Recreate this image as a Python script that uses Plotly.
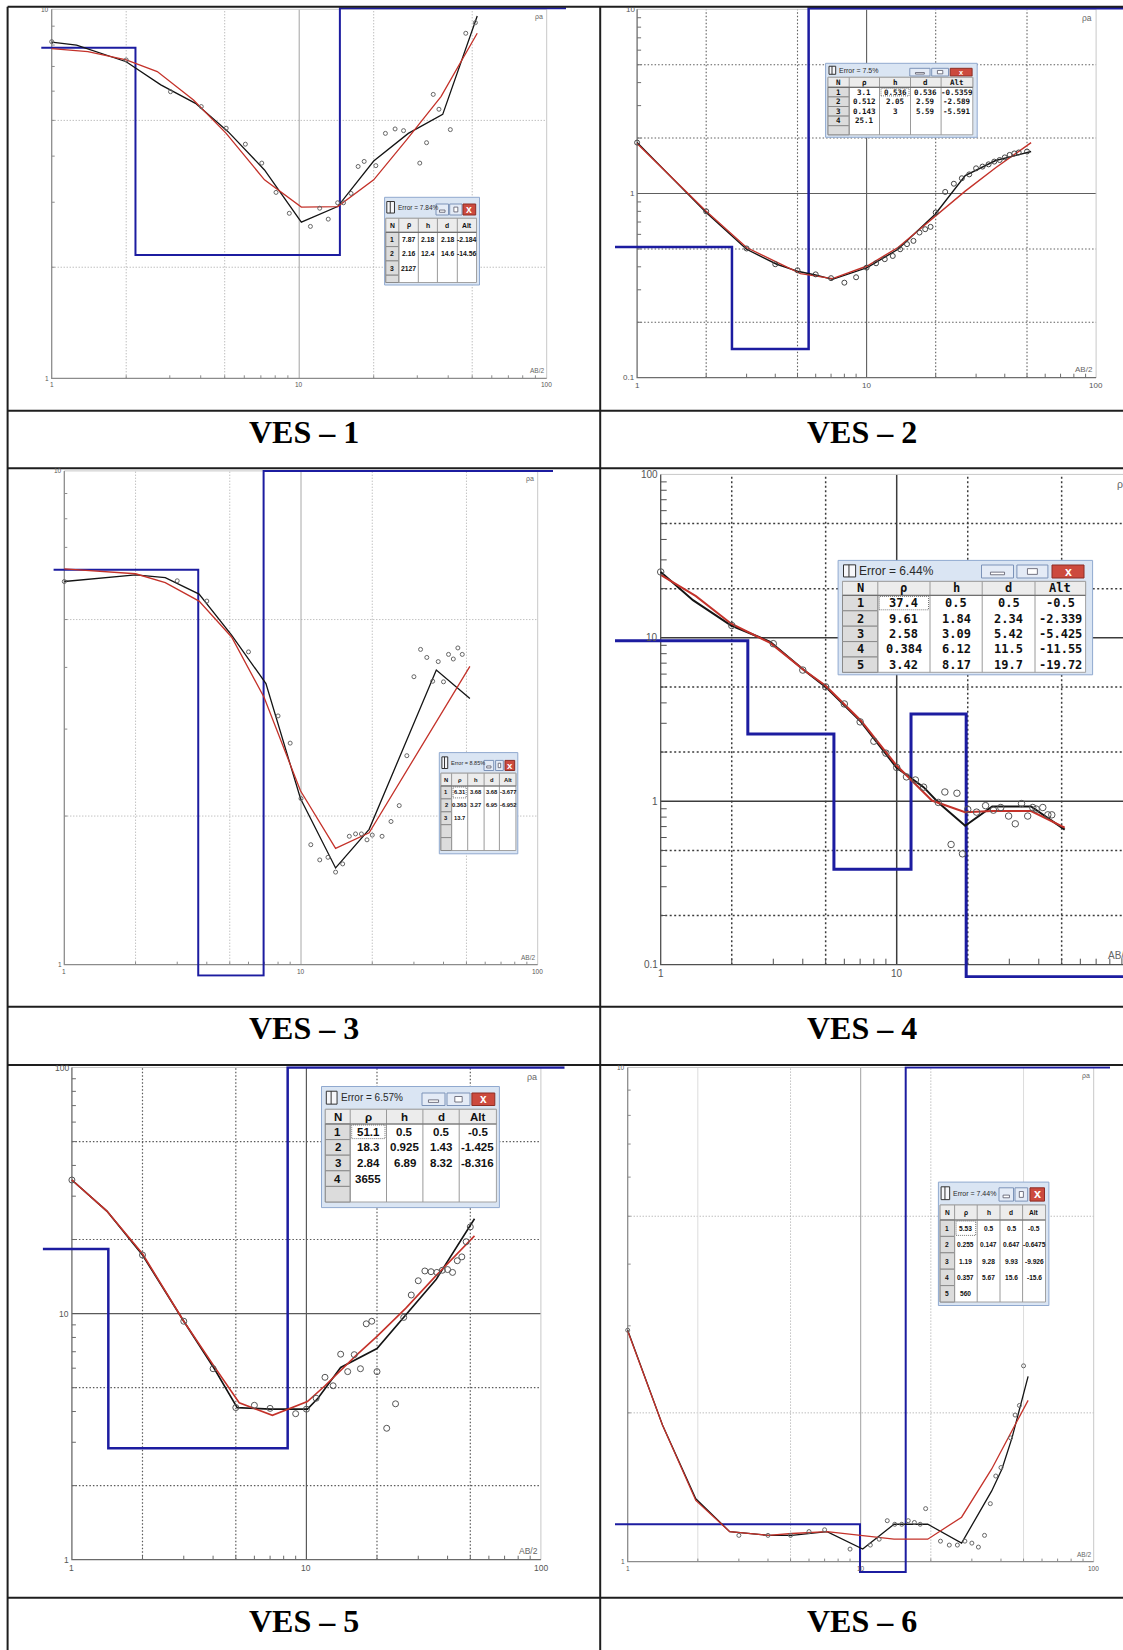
import math
import plotly.graph_objects as go

W, H = 1123, 1650

# ---------------------------------------------------------------
# Sounding data: AB/2 (m) versus apparent resistivity (ohm-m)
#   *_obs   : field readings (circles)
#   *_field : smoothed field curve (black)
#   *_calc  : computed curve of the layered model (red)
#   layer tables: resistivity, thickness, depth, altitude per layer
# ---------------------------------------------------------------

# VES-1
ves1_ab_obs = [1.0, 2.0, 3.02, 4.02, 5.07, 6.06, 7.06, 8.06, 9.12, 11.1, 12.1, 13.1, 14.3, 15.1,
               16.2, 17.3, 18.3, 20.4, 22.3, 24.4, 26.4, 30.7, 32.7, 34.8, 36.7, 40.8, 47.1, 51.5]
ves1_rho_obs = [8.17, 7.29, 5.98, 5.45, 4.76, 4.31, 3.83, 3.19, 2.80, 2.58, 2.89, 2.70, 2.99, 2.99,
                3.17, 3.75, 3.87, 3.77, 4.61, 4.74, 4.69, 3.83, 4.35, 5.88, 5.36, 4.72, 8.61, 9.20]
ves1_ab_field = [1.0, 1.26, 2.0, 2.76, 3.81, 5.16, 7.24, 10.2, 14.3, 20.0, 27.6, 38.0, 52.4]
ves1_rho_field = [8.15, 8.0, 7.21, 6.24, 5.56, 4.66, 3.67, 2.65, 2.92, 3.88, 4.61, 5.19, 9.59]
ves1_ab_calc = [1.0, 1.40, 2.0, 2.67, 3.74, 5.07, 7.24, 10.2, 14.3, 20.0, 27.1, 37.4, 52.4]
ves1_rho_calc = [7.82, 7.68, 7.29, 6.78, 5.68, 4.61, 3.45, 2.91, 2.92, 3.45, 4.42, 5.80, 8.61]
ves1_error = "7.84%"
ves1_rho = ["7.87", "2.16", "2127"]
ves1_h = ["2.18", "12.4"]
ves1_d = ["2.18", "14.6"]
ves1_alt = ["-2.184", "-14.56"]

# VES-2
ves2_ab_obs = [1, 2, 3, 4, 5, 6, 7, 8, 9, 10, 11, 12, 13, 14, 15, 16, 17, 18, 19, 20,
               22, 24, 26, 28, 30, 32, 34, 36, 38, 40, 42, 44, 46, 50]
ves2_rho_obs = [1.89, 0.80, 0.503, 0.413, 0.383, 0.364, 0.347, 0.328, 0.351, 0.396, 0.418, 0.440,
                0.458, 0.498, 0.531, 0.553, 0.614, 0.640, 0.659, 0.789, 1.02, 1.13, 1.21, 1.27,
                1.37, 1.40, 1.44, 1.49, 1.52, 1.57, 1.62, 1.65, 1.67, 1.69]
ves2_ab_field = [1.0, 2.0, 3.0, 4.06, 5.06, 5.99, 7.1, 10.05, 13.7, 19.9, 26.9, 36.5, 52.1]
ves2_rho_field = [1.89, 0.789, 0.498, 0.413, 0.377, 0.361, 0.342, 0.396, 0.498, 0.772, 1.25, 1.51, 1.69]
ves2_ab_calc = [1.0, 2.0, 3.0, 4.06, 5.15, 7.1, 10.05, 13.7, 19.9, 26.9, 36.5, 52.1]
ves2_rho_calc = [1.87, 0.80, 0.509, 0.422, 0.367, 0.345, 0.404, 0.509, 0.747, 1.03, 1.38, 1.89]
ves2_error = "7.5%"
ves2_rho = ["3.1", "0.512", "0.143", "25.1"]
ves2_h = ["0.536", "2.05", "3"]
ves2_d = ["0.536", "2.59", "5.59"]
ves2_alt = ["-0.5359", "-2.589", "-5.591"]

# VES-3
ves3_ab_obs = [1, 3, 4, 6, 8, 9, 10, 11, 12, 13, 14, 15, 16, 17, 18, 19, 20, 22, 24, 26,
               28, 30, 32, 34, 36, 38, 40, 42, 44, 46, 48]
ves3_rho_obs = [5.97, 5.99, 5.45, 4.30, 3.19, 2.81, 2.17, 1.75, 1.63, 1.65, 1.54, 1.60, 1.82, 1.84,
                1.84, 1.79, 1.83, 1.82, 1.95, 2.10, 2.65, 3.83, 4.35, 4.19, 3.75, 4.11, 3.74,
                4.25, 4.16, 4.38, 4.25]
ves3_ab_field = [1.0, 2.0, 2.67, 3.71, 5.09, 7.11, 9.95, 14.0, 19.4, 37.3, 51.7]
ves3_rho_field = [5.97, 6.16, 6.08, 5.63, 4.65, 3.71, 2.17, 1.57, 1.88, 3.95, 3.46]
ves3_ab_calc = [1.0, 2.0, 2.67, 3.71, 5.09, 6.98, 9.95, 14.0, 19.4, 26.7, 51.7]
ves3_rho_calc = [6.33, 6.19, 5.94, 5.45, 4.61, 3.48, 2.25, 1.72, 1.85, 2.38, 4.02]
ves3_error = "8.85%"
ves3_rho = ["6.31", "0.363", "13.7"]
ves3_h = ["3.68", "3.27"]
ves3_d = ["3.68", "6.95"]
ves3_alt = ["-3.677", "-6.952"]

# VES-4
ves4_ab_obs = [1, 2, 3, 4, 5, 6, 7, 8, 9, 10, 11, 12, 13, 15, 16, 17, 18, 19, 20, 21.8,
               23.8, 25.7, 27.6, 29.8, 31.8, 33.8, 35.9, 37.7, 39.0, 41.6, 43.7, 45.4]
ves4_rho_obs = [25.3, 11.9, 9.21, 6.35, 5.01, 3.94, 3.06, 2.33, 1.97, 1.61, 1.41, 1.35, 1.22,
                0.984, 1.14, 0.544, 1.12, 0.477, 0.891, 0.858, 0.94, 0.882, 0.916, 0.812, 0.728,
                0.968, 0.812, 0.916, 0.896, 0.916, 0.826, 0.826]
ves4_ab_field = [1.0, 1.37, 1.99, 2.91, 4.04, 5.0, 7.06, 9.97, 13.0, 15.0, 19.5, 25.4, 37.1, 51.5]
ves4_rho_field = [25.3, 17.0, 11.9, 9.46, 6.35, 5.01, 3.06, 1.61, 1.22, 0.984, 0.708, 0.93, 0.93, 0.67]
ves4_ab_calc = [1.0, 1.41, 1.99, 2.91, 4.04, 5.0, 7.06, 9.97, 14.1, 19.5, 25.4, 37.1, 51.5]
ves4_rho_calc = [24.3, 18.0, 12.2, 9.31, 6.35, 5.09, 3.11, 1.66, 1.01, 0.858, 0.872, 0.872, 0.689]
ves4_error = "6.44%"
ves4_rho = ["37.4", "9.61", "2.58", "0.384", "3.42"]
ves4_h = ["0.5", "1.84", "3.09", "6.12", "8.17"]
ves4_d = ["0.5", "2.34", "5.42", "11.5", "19.7"]
ves4_alt = ["-0.5", "-2.339", "-5.425", "-11.55", "-19.72"]
ves4_rho_base = 0.05   # bottom layer, below the 0.1 floor of the plot

# VES-5
ves5_ab_obs = [1, 2, 3, 4, 5, 6, 7, 9, 10, 11, 12, 13, 14, 15, 16, 17, 18, 19, 20, 22,
               24, 26, 28, 30, 32, 34, 36, 38, 40, 42, 44, 46, 48, 50]
ves5_rho_obs = [34.9, 17.3, 9.31, 5.97, 4.15, 4.24, 4.12, 3.92, 4.09, 4.53, 5.51, 5.09, 6.84,
                5.81, 6.81, 5.97, 9.09, 9.31, 5.81, 3.42, 4.30, 9.65, 11.9, 13.6, 14.9, 14.8,
                14.7, 15.0, 15.1, 14.7, 16.4, 17.0, 19.6, 22.5]
ves5_ab_field = [1.0, 1.41, 2.0, 3.0, 4.05, 5.07, 7.03, 10.1, 11.2, 14.0, 20.0, 26.5, 35.8, 52.1]
ves5_rho_field = [34.9, 26.1, 17.3, 9.31, 5.97, 4.15, 4.09, 4.09, 4.53, 6.04, 7.21, 9.82, 13.8, 24.3]
ves5_ab_calc = [1.0, 1.41, 2.0, 3.0, 4.05, 5.17, 7.16, 10.1, 12.0, 16.3, 20.0, 26.5, 35.8, 52.1]
ves5_rho_calc = [34.9, 26.1, 17.5, 9.31, 6.09, 4.34, 3.86, 4.39, 5.09, 6.76, 8.08, 10.5, 14.3, 20.7]
ves5_error = "6.57%"
ves5_rho = ["51.1", "18.3", "2.84", "3655"]
ves5_h = ["0.5", "0.925", "6.89"]
ves5_d = ["0.5", "1.43", "8.32"]
ves5_alt = ["-0.5", "-1.425", "-8.316"]

# VES-6
ves6_ab_obs = [1, 3, 4, 5, 6, 7, 9, 11, 12, 13, 14, 15, 16, 17, 18, 19, 22, 24, 26, 28,
               30, 32, 34, 36, 38, 40, 44, 46, 48, 50]
ves6_rho_obs = [2.94, 1.13, 1.13, 1.13, 1.15, 1.16, 1.06, 1.08, 1.11, 1.21, 1.19, 1.19, 1.21,
                1.20, 1.19, 1.28, 1.10, 1.08, 1.08, 1.10, 1.09, 1.07, 1.13, 1.31, 1.49, 1.55,
                1.78, 1.98, 2.07, 2.49]
ves6_ab_field = [1.0, 1.41, 1.96, 2.74, 4.01, 5.06, 7.17, 10.2, 13.9, 19.4, 27.1, 36.5, 40.4, 44.6, 52.3]
ves6_rho_field = [2.94, 1.89, 1.34, 1.15, 1.13, 1.13, 1.15, 1.06, 1.19, 1.19, 1.09, 1.39, 1.54, 1.78, 2.37]
ves6_ab_calc = [1.0, 1.41, 1.96, 2.74, 4.01, 5.06, 7.17, 10.2, 13.9, 19.4, 27.1, 36.5, 52.3]
ves6_rho_calc = [2.93, 1.89, 1.33, 1.15, 1.13, 1.14, 1.15, 1.13, 1.11, 1.11, 1.23, 1.54, 2.12]
ves6_error = "7.44%"
ves6_rho = ["5.53", "0.255", "1.19", "0.357", "560"]
ves6_h = ["0.5", "0.147", "9.28", "5.67"]
ves6_d = ["0.5", "0.647", "9.93", "15.6"]
ves6_alt = ["-0.5", "-0.6475", "-9.926", "-15.6"]

captions = ["VES – 1", "VES – 2", "VES – 3", "VES – 4", "VES – 5", "VES – 6"]
header_labels = ["N", "ρ", "h", "d", "Alt"]

SOUNDINGS = [
    dict(obs=(ves1_ab_obs, ves1_rho_obs), field=(ves1_ab_field, ves1_rho_field),
         calc=(ves1_ab_calc, ves1_rho_calc), tab=(ves1_rho, ves1_h, ves1_d, ves1_alt),
         err=ves1_error, extra=[]),
    dict(obs=(ves2_ab_obs, ves2_rho_obs), field=(ves2_ab_field, ves2_rho_field),
         calc=(ves2_ab_calc, ves2_rho_calc), tab=(ves2_rho, ves2_h, ves2_d, ves2_alt),
         err=ves2_error, extra=[]),
    dict(obs=(ves3_ab_obs, ves3_rho_obs), field=(ves3_ab_field, ves3_rho_field),
         calc=(ves3_ab_calc, ves3_rho_calc), tab=(ves3_rho, ves3_h, ves3_d, ves3_alt),
         err=ves3_error, extra=[]),
    dict(obs=(ves4_ab_obs, ves4_rho_obs), field=(ves4_ab_field, ves4_rho_field),
         calc=(ves4_ab_calc, ves4_rho_calc), tab=(ves4_rho, ves4_h, ves4_d, ves4_alt),
         err=ves4_error, extra=[ves4_rho_base]),
    dict(obs=(ves5_ab_obs, ves5_rho_obs), field=(ves5_ab_field, ves5_rho_field),
         calc=(ves5_ab_calc, ves5_rho_calc), tab=(ves5_rho, ves5_h, ves5_d, ves5_alt),
         err=ves5_error, extra=[]),
    dict(obs=(ves6_ab_obs, ves6_rho_obs), field=(ves6_ab_field, ves6_rho_field),
         calc=(ves6_ab_calc, ves6_rho_calc), tab=(ves6_rho, ves6_h, ves6_d, ves6_alt),
         err=ves6_error, extra=[]),
]

# ---------------------------------------------------------------
# Page geometry (pixels): log scale of each panel and its drawing window
# X1: pixel of AB/2 = 1, DX: pixels per decade; Ybot: pixel of bottom decade
# L/R/T/B: window in which the model line may run past the frame
# ---------------------------------------------------------------
GEOM = [
    dict(X1=51.7, DX=247.5, Ybot=378.3, DY=369.0, ylo=0, yhi=1, L=41.3, R=566, T=7.1, B=392),
    dict(X1=637.1, DX=229.5, Ybot=377.7, DY=184.2, ylo=-1, yhi=1, L=615, R=1123, T=7.1, B=392),
    dict(X1=64.3, DX=236.7, Ybot=964.7, DY=493.8, ylo=0, yhi=1, L=53.6, R=553, T=469.7, B=976.8),
    dict(X1=660.7, DX=236.0, Ybot=964.7, DY=163.43, ylo=-1, yhi=2, L=615, R=1123, T=471, B=977.9),
    dict(X1=71.9, DX=234.5, Ybot=1559.7, DY=246.1, ylo=0, yhi=2, L=42.9, R=564.5, T=1066.3, B=1578),
    dict(X1=627.7, DX=233.0, Ybot=1561.6, DY=494.1, ylo=0, yhi=1, L=615, R=1110, T=1066.3, B=1573.1),
]

STYLE = [
    dict(grid="#a3a3a3", gw=1, dot="1px,2px", frame="#8c8c8c", lab=6.5, blue_w=2, lw=1.3, mk=4, mkc="#666", tick=3, faint=[]),
    dict(grid="#5e5e5e", gw=1.1, dot="1.5px,2px", frame="#6e6e6e", lab=8, blue_w=2.5, lw=1.4, mk=5, mkc="#444", tick=4, faint=[]),
    dict(grid="#a8a8a8", gw=1, dot="1px,2px", frame="#8c8c8c", lab=6.5, blue_w=2, lw=1.3, mk=4, mkc="#666", tick=3, faint=[]),
    dict(grid="#3c3c3c", gw=1.5, dot="2px,2.5px", frame="#505050", lab=10, blue_w=3, lw=2, mk=6.5, mkc="#555", tick=6, faint=[]),
    dict(grid="#5a5a5a", gw=1.2, dot="1.5px,2px", frame="#6a6a6a", lab=8.5, blue_w=2.5, lw=1.6, mk=6, mkc="#555", tick=4, faint=[]),
    dict(grid="#a0a0a0", gw=1, dot="1px,2px", frame="#8c8c8c", lab=6.5, blue_w=2, lw=1.3, mk=4, mkc="#666", tick=3, faint=[2, 50]),
]

FONT_NARROW = "Liberation Sans Narrow, Liberation Sans, Arial, sans-serif"
FONT_MONO = "DejaVu Sans Mono, Liberation Mono, monospace"
FONT_UI = "Liberation Sans, Arial, sans-serif"
FONT_SERIF = "Liberation Serif, Times New Roman, serif"

# Parameter dialog of each panel
TABLES = [
    dict(box=(384.6, 197.3, 479.5, 285), tb=216.5, btn=((436, 448.5), (449.7, 462), (463, 475.7)),
         btn_y=(204, 215), cols=(385.8, 398.8, 418.3, 437.4, 457.3, 476.5), hdr=(218.3, 232.3),
         rh=14.3, nrows=4, font=FONT_NARROW, fs=6.8, tfont=FONT_NARROW, tfs=6.5, icon=0.4, focus=None),
    dict(box=(825.6, 63.3, 977.2, 137.3), tb=76.7, btn=((909.8, 930), (931.7, 948.5), (950.2, 972.1)),
         btn_y=(68.3, 76), cols=(828, 849.2, 879.5, 910.5, 941.1, 972.8), hdr=(77.3, 87.3),
         rh=9.6, nrows=5, font=FONT_MONO, fs=7.5, tfont=FONT_UI, tfs=7, icon=0.5, focus=(0, 2)),
    dict(box=(439.3, 752.6, 517.8, 853.8), tb=772, btn=((484, 493.7), (495.6, 503.3), (505, 514.7)),
         btn_y=(760.4, 770.5), cols=(440.9, 451.6, 467.7, 484.1, 499.4, 515.9), hdr=(773.2, 786),
         rh=12.9, nrows=5, font=FONT_NARROW, fs=5.8, tfont=FONT_NARROW, tfs=5.5, icon=0.3, focus=(0, 1)),
    dict(box=(838.1, 560.4, 1092.6, 674.8), tb=580.6, btn=((981.5, 1013.5), (1016.9, 1047.9), (1052, 1084)),
         btn_y=(565, 578), cols=(842.5, 877.8, 930, 982.2, 1035, 1085.6), hdr=(581.4, 595.4),
         rh=15.4, nrows=5, font=FONT_MONO, fs=12, tfont=FONT_UI, tfs=12, icon=0.6, focus=(0, 1)),
    dict(box=(321.5, 1086.5, 499.4, 1207.6), tb=1108, btn=((422, 445), (447, 470), (471.9, 494.8)),
         btn_y=(1093, 1105.5), cols=(325.3, 350.2, 386.5, 422.9, 459.2, 496.4), hdr=(1109.3, 1124),
         rh=15.6, nrows=5, font=FONT_NARROW, fs=11.5, tfont=FONT_NARROW, tfs=10, icon=0.5, focus=(0, 1)),
    dict(box=(938.4, 1182.1, 1048.9, 1305.5), tb=1203.5, btn=((999, 1013.5), (1015, 1027.7), (1030, 1044.5)),
         btn_y=(1187.8, 1201.1), cols=(940.1, 954.6, 977.2, 1000, 1022.6, 1045.5), hdr=(1205, 1220),
         rh=16.4, nrows=5, font=FONT_NARROW, fs=6.6, tfont=FONT_NARROW, tfs=7, icon=0.4, focus=(0, 1)),
]

CAPTION_XY = [(303.8, 432), (862.3, 432), (303.8, 1028), (862.3, 1028), (303.8, 1620.5), (862.3, 1620.5)]
RULES_H = [6.7, 410.7, 468.3, 1006.7, 1065, 1597.7]
RULES_V = [7.6, 600.2]


def fx(px):
    return px / W


def fy(py):
    return 1 - py / H


def val_x(g, px):
    return 10 ** ((px - g["X1"]) / g["DX"])


def val_y(g, py):
    return 10 ** (g["ylo"] + (g["Ybot"] - py) / g["DY"])


def px_x(g, v):
    return g["X1"] + math.log10(v) * g["DX"]


def px_y(g, v):
    return g["Ybot"] - (math.log10(v) - g["ylo"]) * g["DY"]


shapes = []
annos = []


def rect(x0, y0, x1, y1, fill=None, line=None, lw=1, dash=None):
    ln = dict(color=line if line else "rgba(0,0,0,0)", width=lw if line else 0)
    if dash:
        ln["dash"] = dash
    s = dict(type="rect", xref="paper", yref="paper", x0=fx(x0), x1=fx(x1),
             y0=fy(y1), y1=fy(y0), line=ln, layer="above")
    if fill:
        s["fillcolor"] = fill
    shapes.append(s)


def seg(x0, y0, x1, y1, color, width=1):
    shapes.append(dict(type="line", xref="paper", yref="paper", x0=fx(x0), x1=fx(x1),
                       y0=fy(y0), y1=fy(y1), line=dict(color=color, width=width), layer="above"))


def label(x, y, s, size, color="#111", family=FONT_UI, xa="center", ya="middle"):
    annos.append(dict(xref="paper", yref="paper", x=fx(x), y=fy(y), text=s, showarrow=False,
                      font=dict(size=size, color=color, family=family),
                      xanchor=xa, yanchor=ya, borderpad=0))


def fmt_decade(k):
    return "%g" % (10.0 ** k)


def axis_names(i):
    return ("x" if i == 1 else f"x{i}"), ("y" if i == 1 else f"y{i}")


fig = go.Figure()
layout_axes = {}


def lines_trace(xs, ys, color, width, dash, xa, ya):
    fig.add_trace(go.Scatter(x=xs, y=ys, mode="lines", xaxis=xa, yaxis=ya,
                             line=dict(color=color, width=width, dash=dash),
                             hoverinfo="skip", showlegend=False))


for i, (snd, g, st, tb) in enumerate(zip(SOUNDINGS, GEOM, STYLE, TABLES), start=1):
    xa, ya = axis_names(i)
    layout_axes["xaxis" if i == 1 else f"xaxis{i}"] = dict(
        type="log", domain=[fx(g["L"]), fx(g["R"])],
        range=[(g["L"] - g["X1"]) / g["DX"], (g["R"] - g["X1"]) / g["DX"]],
        visible=False, anchor=ya, fixedrange=True)
    layout_axes["yaxis" if i == 1 else f"yaxis{i}"] = dict(
        type="log", domain=[fy(g["B"]), fy(g["T"])],
        range=[g["ylo"] + (g["Ybot"] - g["B"]) / g["DY"], g["ylo"] + (g["Ybot"] - g["T"]) / g["DY"]],
        visible=False, anchor=xa, fixedrange=True)

    ymin, ymax = 10.0 ** g["ylo"], 10.0 ** g["yhi"]

    # dotted grid at 2 and 5 of every decade
    gx, gy = [], []
    for v in (2, 5, 20, 50):
        if v in st["faint"]:
            continue
        gx += [v, v, None]
        gy += [ymin, ymax, None]
    for k in range(g["ylo"], g["yhi"]):
        for m in (2, 5):
            gx += [1, 100, None]
            gy += [m * 10.0 ** k, m * 10.0 ** k, None]
    lines_trace(gx, gy, st["grid"], st["gw"], st["dot"], xa, ya)
    if st["faint"]:
        fxs, fys = [], []
        for v in st["faint"]:
            fxs += [v, v, None]
            fys += [ymin, ymax, None]
        lines_trace(fxs, fys, "#dcdcdc", 1, "solid", xa, ya)

    # solid decade lines
    sx, sy = [10, 10, None], [ymin, ymax, None]
    for k in range(g["ylo"] + 1, g["yhi"]):
        sx += [1, 100, None]
        sy += [10.0 ** k, 10.0 ** k, None]
    lines_trace(sx, sy, st["grid"], st["gw"], "solid", xa, ya)

    # frame: right/top light, left/bottom darker with inward ticks
    lines_trace([1, 100, 100], [ymax, ymax, ymin], "#c8c8c8", 1, "solid", xa, ya)
    lines_trace([1, 1, 100], [ymax, ymin, ymin], st["frame"], 1.3, "solid", xa, ya)
    tx, ty = [], []
    tip_x = val_x(g, g["X1"] + st["tick"])
    for k in range(g["ylo"], g["yhi"]):
        for m in range(2, 10):
            v = m * 10.0 ** k
            tx += [1, tip_x, None]
            ty += [v, v, None]
    tip_y = val_y(g, g["Ybot"] - st["tick"])
    for k in (0, 1):
        for m in range(2, 10):
            v = m * 10.0 ** k
            tx += [v, v, None]
            ty += [ymin, tip_y, None]
    lines_trace(tx, ty, st["frame"], 1, "solid", xa, ya)

    # layered model (blue staircase), clamped to the drawing window
    rho_txt, h_txt, d_txt, alt_txt = snd["tab"]
    rho = [float(s) for s in rho_txt] + list(snd["extra"])
    dep = [float(s) for s in d_txt]
    lo_v = val_y(g, g["B"] - 1.2)
    hi_v = val_y(g, g["T"] + 1.2)

    def clamp(v):
        return min(max(v, lo_v), hi_v)

    bx = [val_x(g, g["L"] - 30)]
    by = [clamp(rho[0])]
    for j, dd in enumerate(dep):
        bx += [dd, dd]
        by += [clamp(rho[j]), clamp(rho[j + 1])]
    bx.append(val_x(g, g["R"] + 30))
    by.append(clamp(rho[len(dep)]))
    lines_trace(bx, by, "#1c1ca0", st["blue_w"], "solid", xa, ya)

    # field curve, computed curve and readings
    lines_trace(snd["field"][0], snd["field"][1], "#141414", st["lw"], "solid", xa, ya)
    lines_trace(snd["calc"][0], snd["calc"][1], "#c4322a", st["lw"], "solid", xa, ya)
    fig.add_trace(go.Scatter(x=snd["obs"][0], y=snd["obs"][1], mode="markers", xaxis=xa, yaxis=ya,
                             marker=dict(symbol="circle-open", size=st["mk"], color=st["mkc"],
                                         line=dict(width=1, color=st["mkc"])),
                             hoverinfo="skip", showlegend=False))

    # axis numbers and axis titles
    for k in range(g["ylo"], g["yhi"] + 1):
        label(g["X1"] - 1.5, px_y(g, 10.0 ** k), fmt_decade(k), st["lab"], "#555", FONT_UI, "right", "middle")
    for k in range(0, 3):
        label(px_x(g, 10.0 ** k), g["Ybot"] + 2, fmt_decade(k), st["lab"], "#555", FONT_UI, "center", "top")
    x100 = px_x(g, 100)
    label(x100 - 3, g["Ybot"] - g["DY"] * (g["yhi"] - g["ylo"]) + 3, "ρa", st["lab"] + 0.5,
          "#666", FONT_UI, "right", "top")
    label(x100 - 2, g["Ybot"] - 3, "AB/2", st["lab"], "#666", FONT_UI, "right", "bottom")

    # parameter dialog
    x0, y0, x1, y1 = tb["box"]
    rect(x0, y0, x1, y1, fill="#dae5f3", line="#90a9cf", lw=1)
    c0 = tb["cols"][0]
    th = tb["tb"] - y0
    iw = th * tb["icon"]
    rect(c0 + 1, y0 + th * 0.22, c0 + 1 + iw, tb["tb"] - th * 0.18, fill="#f6f7fa", line="#333", lw=1)
    seg(c0 + 1 + iw * 0.45, y0 + th * 0.22, c0 + 1 + iw * 0.45, tb["tb"] - th * 0.18, "#333", 1)
    label(c0 + iw + 3.5, (y0 + tb["tb"]) / 2 + 0.5, "Error = " + snd["err"], tb["tfs"], "#2a2a2a",
          tb["tfont"], "left", "middle")
    by0, by1 = tb["btn_y"]
    for j, (u0, u1) in enumerate(tb["btn"]):
        cx, cy = (u0 + u1) / 2, (by0 + by1) / 2
        bw, bh = u1 - u0, by1 - by0
        if j < 2:
            rect(u0, by0, u1, by1, fill="#e4ebf6", line="#7c93b8", lw=1)
        else:
            rect(u0, by0, u1, by1, fill="#cc4a3e", line="#8c2d24", lw=1)
        if j == 0:
            rect(cx - bw * 0.22, cy + bh * 0.05, cx + bw * 0.22, cy + bh * 0.25, fill="#ffffff", line="#556", lw=0.8)
        elif j == 1:
            rect(cx - bw * 0.16, cy - bh * 0.22, cx + bw * 0.16, cy + bh * 0.22, fill="#ffffff", line="#556", lw=0.8)
        else:
            label(cx, cy, "<b>x</b>", max(bh * 0.95, 6.5), "#ffffff", FONT_UI, "center", "middle")

    cols = tb["cols"]
    hy0, hy1 = tb["hdr"]
    rh = tb["rh"]
    gy1 = min(hy1 + tb["nrows"] * rh, y1 - 2.5)
    rect(cols[0], hy0, cols[-1], gy1, fill="#ffffff", line="#a2a2a2", lw=1)
    rect(cols[0], hy0, cols[-1], hy1, fill="#ececec", line="#a2a2a2", lw=1)
    for r in range(tb["nrows"]):
        r0 = hy1 + r * rh
        r1 = min(r0 + rh, gy1)
        if r0 >= gy1:
            break
        rect(cols[0], r0, cols[1], r1, fill="#dcdcdc", line="#8a8a8a", lw=1)
    for c in cols[1:-1]:
        seg(c, hy0, c, gy1, "#9a9a9a", 1)
    seg(cols[0], hy1, cols[-1], hy1, "#707070", 1.2)
    for j, lab in enumerate(header_labels):
        label((cols[j] + cols[j + 1]) / 2, (hy0 + hy1) / 2, "<b>" + lab + "</b>", tb["fs"], "#111",
              tb["font"], "center", "middle")
    columns = [rho_txt, h_txt, d_txt, alt_txt]
    for r in range(tb["nrows"]):
        cy = hy1 + (r + 0.5) * rh
        if cy > gy1 - 2:
            break
        if r < len(rho_txt):
            label((cols[0] + cols[1]) / 2, cy, "<b>%d</b>" % (r + 1), tb["fs"], "#111", tb["font"])
        for j, colv in enumerate(columns):
            if r < len(colv):
                label((cols[j + 1] + cols[j + 2]) / 2, cy, "<b>" + colv[r] + "</b>", tb["fs"], "#111",
                      tb["font"])
    if tb["focus"]:
        fr, fc = tb["focus"]
        rect(cols[fc] + 1.5, hy1 + fr * rh + 1, cols[fc + 1] - 1.5, hy1 + (fr + 1) * rh - 1,
             line="#555", lw=0.8, dash="1px,1px")

    # caption
    cxp, cyp = CAPTION_XY[i - 1]
    label(cxp, cyp, "<b>" + captions[i - 1] + "</b>", 32, "#000", FONT_SERIF, "center", "middle")

# ruled frame of the figure table
for yv in RULES_H:
    seg(RULES_V[0], yv, W + 2, yv, "#1e1e1e", 2)
for xv in RULES_V:
    seg(xv, RULES_H[0], xv, H + 2, "#1e1e1e", 2)

fig.update_layout(
    width=W, height=H, autosize=False,
    margin=dict(l=0, r=0, t=0, b=0),
    paper_bgcolor="white", plot_bgcolor="rgba(0,0,0,0)",
    showlegend=False, shapes=shapes, annotations=annos,
    **layout_axes,
)

fig.write_html("out.html", config={"displayModeBar": False})
